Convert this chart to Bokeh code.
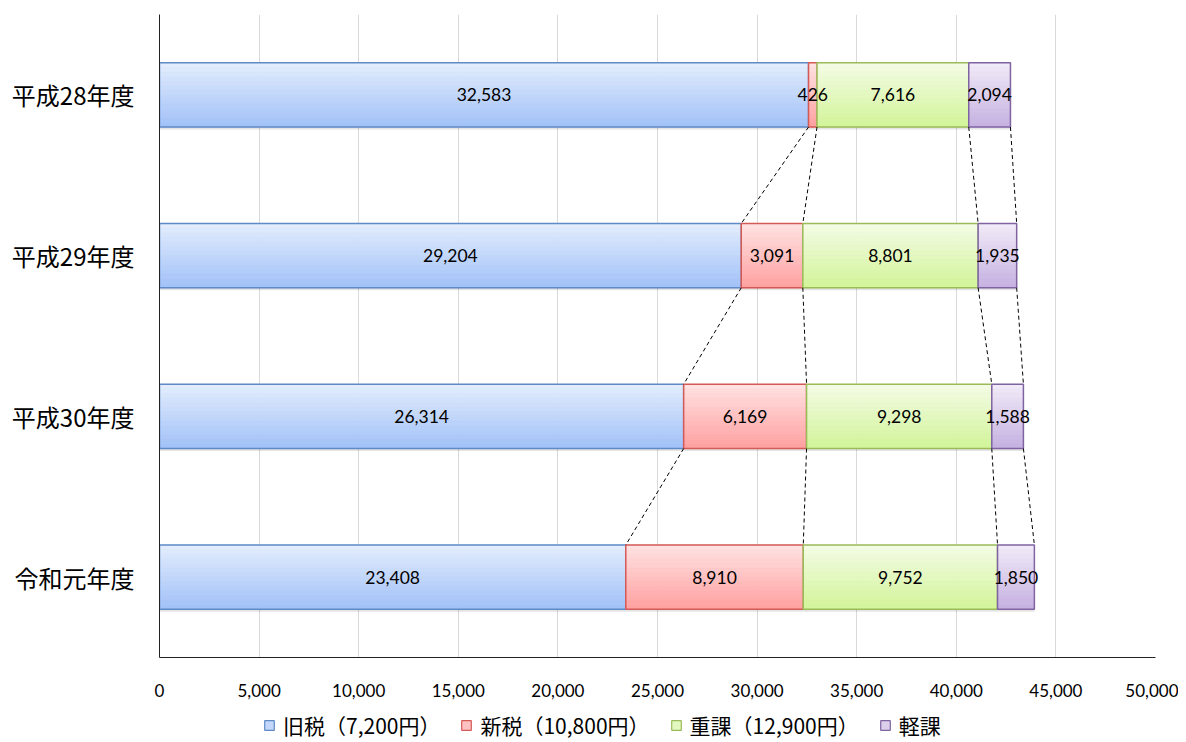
import numpy as np
from bokeh.plotting import figure
from bokeh.layouts import column
from bokeh.models import (ColumnDataSource, FactorRange, Range1d, Legend, LegendItem,
                          NumeralTickFormatter, FixedTicker)
from bokeh.transform import dodge
from bokeh.core.properties import value
from bokeh.embed import file_html
from bokeh.resources import INLINE

# ---------------- data ----------------
years = ["平成28年度", "平成29年度", "平成30年度", "令和元年度"]
series_names = ["旧税（7,200円）", "新税（10,800円）", "重課（12,900円）", "軽課"]
old_tax = [32583, 29204, 26314, 23408]
new_tax = [426, 3091, 6169, 8910]
heavy_tax = [7616, 8801, 9298, 9752]
light_tax = [2094, 1935, 1588, 1850]
x_ticks = [0, 5000, 10000, 15000, 20000, 25000, 30000, 35000, 40000, 45000, 50000]

# ---------------- styles ----------------
grad_top = ["#e2ecfd", "#ffe1e1", "#f3fbe4", "#f0e9f7"]
grad_bot = ["#a3c2f8", "#ffa2a2", "#d3f59b", "#c7b3e2"]
mid_col = ["#c2d7fb", "#ffc2c2", "#e3f8c0", "#dccfec"]
edge_col = ["#5f8ac6", "#d35a57", "#9bbb59", "#8064a2"]
BAR_H = 0.4
NBANDS = 14

def lerp_hex(a, b, t):
    a = [int(a[i:i + 2], 16) for i in (1, 3, 5)]
    b = [int(b[i:i + 2], 16) for i in (1, 3, 5)]
    c = [round(a[k] + (b[k] - a[k]) * t) for k in range(3)]
    return "#%02x%02x%02x" % tuple(c)

series = [old_tax, new_tax, heavy_tax, light_tax]
vals = np.array(series, dtype=float)          # shape (4 series, 4 years)
rights = np.cumsum(vals, axis=0)
lefts = rights - vals

p = figure(y_range=FactorRange(factors=years[::-1]), x_range=Range1d(0, 50000),
           frame_width=996, frame_height=643,
           min_border_left=159, min_border_top=14, min_border_right=23, min_border_bottom=46,
           output_backend="svg", toolbar_location=None)
p.outline_line_color = None
p.background_fill_color = "white"
p.y_range.range_padding = 0

# soft shadow below each whole bar
ssrc = ColumnDataSource(dict(year=years, total=rights[3]))
p.hbar(y=dodge("year", -0.016, range=p.y_range), height=BAR_H, left=0, right="total",
       source=ssrc, fill_color="#000000", fill_alpha=0.10, line_color=None)

label_sources = []
for k in range(4):
    src = ColumnDataSource(dict(year=years, left=lefts[k], right=rights[k],
                                mid=(lefts[k] + rights[k]) / 2,
                                lab=[f"{int(v):,}" for v in vals[k]]))
    label_sources.append(src)
    bh = BAR_H / NBANDS
    for j in range(NBANDS):
        off = BAR_H / 2 - (j + 0.5) * bh
        c = lerp_hex(grad_top[k], grad_bot[k], j / (NBANDS - 1))
        p.hbar(y=dodge("year", off, range=p.y_range), height=bh, left="left", right="right",
               source=src, fill_color=c, line_color=c, line_width=0.6)
    p.hbar(y="year", height=BAR_H, left="left", right="right", source=src,
           fill_color=None, line_color=edge_col[k], line_width=1.5)

# dashed connectors between consecutive bars
cx0, cx1, cfrom, cto = [], [], [], []
for i in range(len(years) - 1):
    for k in range(4):
        cx0.append(rights[k][i]); cx1.append(rights[k][i + 1])
        cfrom.append(years[i]); cto.append(years[i + 1])
csrc = ColumnDataSource(dict(x0=cx0, x1=cx1, f=cfrom, t=cto))
p.segment(x0="x0", x1="x1", y0=dodge("f", -BAR_H / 2, range=p.y_range),
          y1=dodge("t", BAR_H / 2, range=p.y_range), source=csrc,
          line_color="#000000", line_width=1, line_dash="4 3")

# data labels on top of everything
for src in label_sources:
    p.text(x="mid", y="year", text="lab", source=src, text_align="center",
           text_baseline="middle", text_font=value("Lato"), text_font_size="17.5px",
           text_color="#000000")

# axes & grid
p.xaxis.ticker = FixedTicker(ticks=x_ticks)
p.xaxis.formatter = NumeralTickFormatter(format="0,0")
p.xaxis.major_tick_line_color = None
p.xaxis.major_tick_out = 0
p.xaxis.major_tick_in = 0
p.xaxis.minor_tick_line_color = None
p.xaxis.axis_line_color = "#222222"
p.xaxis.major_label_text_font = "Lato"
p.xaxis.major_label_text_font_size = "17px"
p.xaxis.major_label_text_color = "#000000"
p.xaxis.major_label_standoff = 26

p.yaxis.major_tick_line_color = None
p.yaxis.major_tick_out = 0
p.yaxis.major_tick_in = 0
p.yaxis.minor_tick_line_color = None
p.yaxis.axis_line_color = "#222222"
p.yaxis.major_label_text_font = "Noto Sans CJK JP"
p.yaxis.major_label_text_font_size = "24px"
p.yaxis.major_label_text_color = "#000000"
p.yaxis.major_label_standoff = 25

p.ygrid.grid_line_color = None
p.xgrid.grid_line_color = "#d9d9d9"

# ---------------- legend strip ----------------
p2 = figure(width=1178, height=37, x_range=Range1d(0, 1), y_range=Range1d(0, 1),
            min_border=0, output_backend="svg", toolbar_location=None)
p2.axis.visible = False
p2.grid.visible = False
p2.outline_line_color = None
items = []
for k in range(4):
    # off-screen proxy glyph, used only for the legend swatch
    r = p2.hbar(y=[-10], height=1, left=[0], right=[0.1], fill_color=mid_col[k],
                line_color=edge_col[k], line_width=1.2)
    items.append(LegendItem(label=series_names[k], renderers=[r]))
legend = Legend(items=items, orientation="horizontal", location=(104, 0),
                border_line_color=None, background_fill_alpha=0,
                label_text_font="Noto Sans CJK JP", label_text_font_size="21px",
                label_text_color="#000000", label_text_line_height=1.0,
                glyph_width=12, glyph_height=12, spacing=20, label_standoff=8,
                margin=0, padding=0)
p2.add_layout(legend, "center")

layout = column(p, p2, spacing=0)
open("out.html", "w").write(file_html(layout, INLINE))
